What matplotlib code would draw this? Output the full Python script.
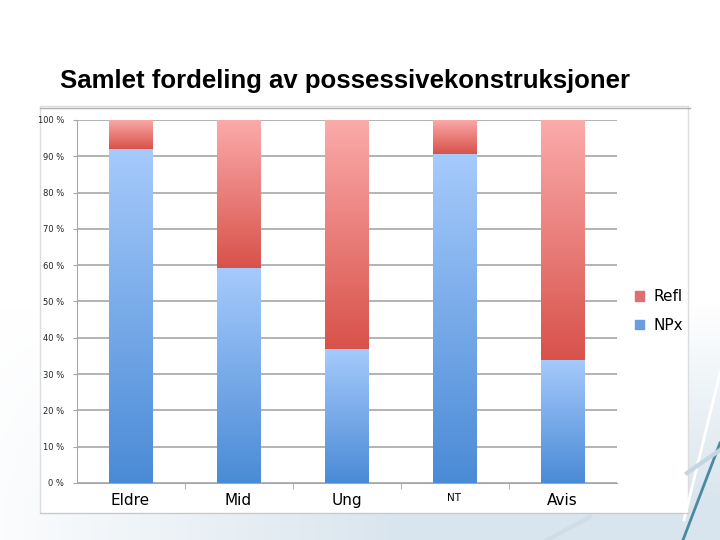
import numpy as np
import matplotlib.pyplot as plt
from matplotlib.colors import LinearSegmentedColormap
from matplotlib.patches import Rectangle

categories = ['Eldre', 'Mid', 'Ung', 'NT', 'Avis']
npx = [92.0, 59.2, 36.9, 90.6, 33.9]
refl = [100 - v for v in npx]
yticks = list(range(0, 101, 10))
ytick_labels = ['%d %%' % t for t in yticks]

fig = plt.figure(figsize=(7.2, 5.4), dpi=100)
fig.patch.set_facecolor('white')

# slide background (light blue tint towards the bottom right)
deco = fig.add_axes([0, 0, 1, 1], zorder=-5)
deco.set_xlim(0, 720)
deco.set_ylim(540, 0)
deco.axis('off')
yy, xx = np.mgrid[0:540:4, 0:720:4]
shade = np.clip((yy - 300) / 200, 0, 1) * np.clip((xx + 50) / 450, 0, 1)
bg = LinearSegmentedColormap.from_list('bg', ['#ffffff', '#d9e5ee'])
deco.imshow(shade, cmap=bg, vmin=0, vmax=1, extent=(0, 720, 540, 0), aspect='auto')
deco.plot([720, 684], [373, 520], color='white', lw=2)
deco.plot([720, 683], [443, 540], color='#4a8aa0', lw=2)
deco.plot([687, 720], [473, 450], color='#c5d6e0', lw=3)
deco.plot([547, 590], [540, 517], color='#d0dde6', lw=3)
deco.add_patch(Rectangle((40, 106), 648, 407, facecolor='white', edgecolor='#dcdcdc', lw=1))
deco.plot([40, 690], [108, 108], color='#b0b0b0', lw=1)
deco.plot([40, 688], [513, 513], color='#c8c8c8', lw=0.8)

fig.text(0.083, 0.837, 'Samlet fordeling av possessivekonstruksjoner',
         fontsize=18.5, fontweight='bold', family='Liberation Sans', color='black')

ax = fig.add_axes([0.10625, 0.1056, 0.75, 0.6722])
x = np.arange(len(categories))
w = 0.4

blue = LinearSegmentedColormap.from_list('b', ['#4a8bd6', '#a6cafc'])
red = LinearSegmentedColormap.from_list('r', ['#d8524a', '#fbabab'])
grad = np.linspace(0, 1, 256).reshape(-1, 1)

b1 = ax.bar(x, npx, w, color='#7aaae8', zorder=2)
b2 = ax.bar(x, refl, w, bottom=npx, color='#e88080', zorder=2)
for bars, cmap in ((b1, blue), (b2, red)):
    for p in bars:
        x0, y0 = p.get_x(), p.get_y()
        im = ax.imshow(grad, cmap=cmap, origin='lower', aspect='auto',
                       extent=(x0, x0 + p.get_width(), y0, y0 + p.get_height()),
                       zorder=3)
        im.set_clip_path(p)

ax.set_xlim(-0.5, 4.5)
ax.set_ylim(0, 100)
ax.set_yticks(yticks)
ax.set_yticklabels(ytick_labels, fontsize=6, color='#222222')
ax.yaxis.grid(True, color='#a6a6a6', lw=1.2, zorder=0)
ax.set_axisbelow(True)
for s in ('top', 'right'):
    ax.spines[s].set_visible(False)
ax.spines['left'].set_color('#a6a6a6')
ax.spines['bottom'].set_color('#a6a6a6')
ax.tick_params(axis='y', length=3, color='#a6a6a6', pad=6)
ax.set_xticks(x)
ax.set_xticklabels(categories, fontsize=11, family='DejaVu Sans')
ax.get_xticklabels()[3].set_fontsize(7.5)
ax.set_xticks(np.arange(0.5, 4.5, 1), minor=True)
ax.tick_params(axis='x', which='major', length=0, pad=7)
ax.tick_params(axis='x', which='minor', length=4, color='#a6a6a6')

handles = [Rectangle((0, 0), 1, 1, color='#e07070'), Rectangle((0, 0), 1, 1, color='#6a9de0')]
fig.legend(handles, ['Refl', 'NPx'], loc='upper left', bbox_to_anchor=(0.863, 0.49),
           frameon=False, fontsize=11, handlelength=0.6, handleheight=0.6,
           handletextpad=0.6, labelspacing=0.9)

fig.savefig('out.png', dpi=100)
